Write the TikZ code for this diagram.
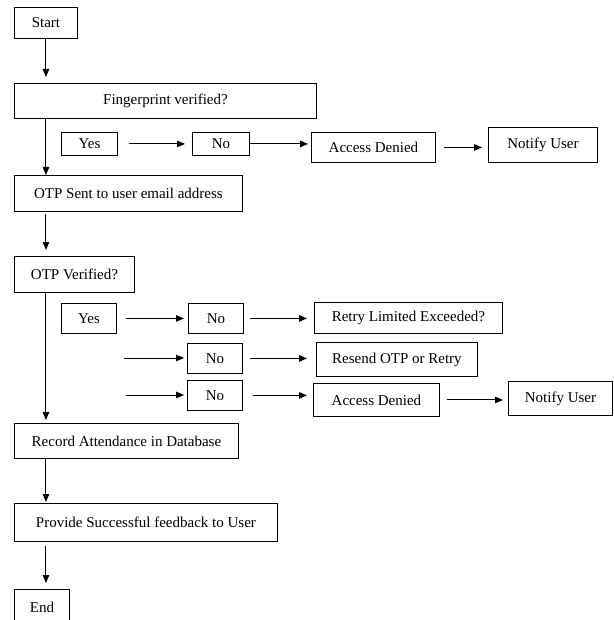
\documentclass[tikz,border=0pt]{standalone}
\usepackage{fontspec}
\setmainfont{Liberation Serif}
\usetikzlibrary{arrows.meta}
\begin{document}
\begin{tikzpicture}[x=1pt,y=-1pt,
  box/.style={draw, line width=0.9pt, anchor=north west, inner sep=0pt, font=\fontsize{15}{18}\selectfont},
  arr/.style={line width=1pt, -{Triangle[length=8pt,width=6.5pt]}}]
\useasboundingbox (0,0) rectangle (613,620);
\node[box, minimum width=63pt, minimum height=31pt] (start) at (14,7) {Start};
\node[box, minimum width=302pt, minimum height=35pt] (fp) at (14,83) {Fingerprint verified?};
\node[box, minimum width=56pt, minimum height=23pt] (yes1) at (61,132) {Yes};
\node[box, minimum width=57pt, minimum height=23pt] (no1) at (192,132) {No};
\node[box, minimum width=124pt, minimum height=30pt] (ad1) at (311,132) {Access Denied};
\node[box, minimum width=109pt, minimum height=35pt] (nu1) at (488,127) {Notify User};
\node[box, minimum width=228pt, minimum height=36pt] (otp) at (14,175) {OTP Sent to user email address};
\node[box, minimum width=120pt, minimum height=36pt] (otpv) at (14,256) {OTP Verified?};
\node[box, minimum width=55pt, minimum height=30pt] (yes2) at (61,303) {Yes};
\node[box, minimum width=55pt, minimum height=30pt] (no2) at (188,303) {No};
\node[box, minimum width=188pt, minimum height=31pt] (retry) at (314,302) {Retry Limited Exceeded?};
\node[box, minimum width=55pt, minimum height=30pt] (no3) at (187,343) {No};
\node[box, minimum width=161pt, minimum height=34pt] (resend) at (316,342) {Resend OTP or Retry};
\node[box, minimum width=55pt, minimum height=30pt] (no4) at (187,380) {No};
\node[box, minimum width=126pt, minimum height=33pt] (ad2) at (313,383) {Access Denied};
\node[box, minimum width=104pt, minimum height=34pt] (nu2) at (508,381) {Notify User};
\node[box, minimum width=224pt, minimum height=35pt] (rec) at (14,423) {Record Attendance in Database};
\node[box, minimum width=263pt, minimum height=38pt] (prov) at (14,503) {Provide Successful feedback to User};
\node[box, minimum width=55pt, minimum height=36pt] (end) at (14,589) {End};
\coordinate (c3) at (124,358);
\coordinate (c4) at (126,395);
% main column
\draw[arr, shorten >=6pt] (start.south) -- (fp.north -| start.south);
\draw[arr] (fp.south -| start.south) -- (otp.north -| start.south);
\draw[arr, shorten <=2pt, shorten >=6pt] (otp.south -| start.south) -- (otpv.north -| start.south);
\draw[arr, shorten >=3pt] (otpv.south -| start.south) -- (rec.north -| start.south);
\draw[arr, shorten >=1pt] (rec.south -| start.south) -- (prov.north -| start.south);
\draw[arr, shorten <=4pt, shorten >=6pt] (prov.south -| start.south) -- (end.north -| start.south);
% fingerprint row
\draw[arr, shorten <=11pt, shorten >=7pt] (yes1.east) -- (no1.west);
\draw[arr, shorten >=3pt] (no1.east) -- (no1.east -| ad1.west);
\draw[arr, shorten <=8pt, shorten >=6pt] (ad1.east) -- (ad1.east -| nu1.west);
% OTP rows
\draw[arr, shorten <=9pt, shorten >=4pt] (yes2.east) -- (no2.west);
\draw[arr, shorten <=6pt, shorten >=7pt] (no2.east) -- (no2.east -| retry.west);
\draw[arr, shorten >=3pt] (c3) -- (c3 -| no3.west);
\draw[arr, shorten <=7pt, shorten >=9pt] (no3.east) -- (no3.east -| resend.west);
\draw[arr, shorten >=3pt] (c4) -- (c4 -| no4.west);
\draw[arr, shorten <=10pt, shorten >=6pt] (no4.east) -- (no4.east -| ad2.west);
\draw[arr, shorten <=7pt, shorten >=5pt] (ad2.east) -- (ad2.east -| nu2.west);
\end{tikzpicture}
\end{document}
